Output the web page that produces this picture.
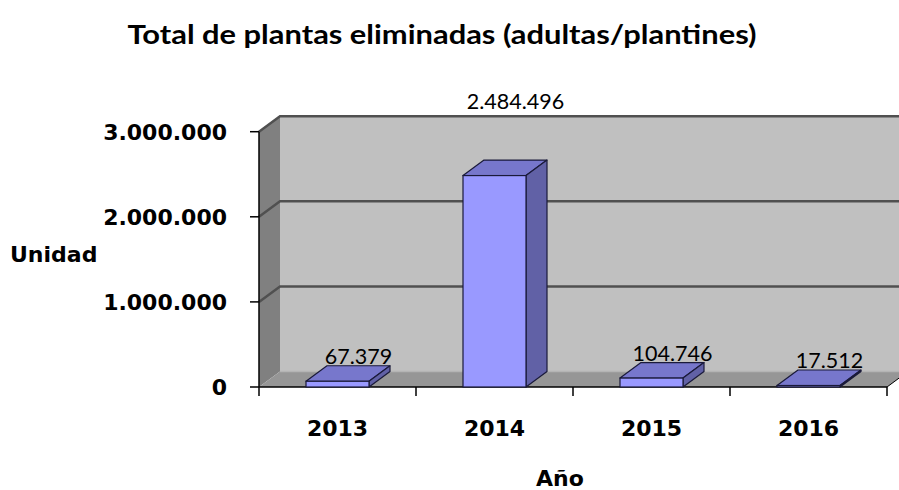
<!DOCTYPE html>
<html>
<head>
<meta charset="utf-8">
<script src="https://cdn.jsdelivr.net/npm/d3@7"></script>
<style>
  html, body { margin: 0; padding: 0; background: #fff; }
</style>
</head>
<body>
<div id="chart"></div>
<script>
const years = ['2013', '2014', '2015', '2016'];
const values = [67379, 2484496, 104746, 17512];
const yTicks = [0, 1000000, 2000000, 3000000];
const yTickLabels = ['0', '1.000.000', '2.000.000', '3.000.000'];
const valueLabels = ['67.379', '2.484.496', '104.746', '17.512'];
const title = 'Total de plantas eliminadas (adultas/plantines)';
const xTitle = 'Año';
const yTitle = 'Unidad';

const width = 899;
const height = 490;
const plot = {left: 259, right: 887, top: 131.7, bottom: 387};
// 3d depth offset
const dx = 21;
const dy = -15.5;
const barWidth = 63;

const svg = d3
  .select('#chart')
  .append('svg')
  .attr('width', width)
  .attr('height', height);

const xScale = d3
  .scaleBand()
  .domain(years)
  .range([plot.left, plot.right])
  .padding(0);

const yScale = d3
  .scaleLinear()
  .domain([0, 3000000])
  .range([plot.bottom, plot.top]);

const x0 = plot.left;
const x1 = plot.right;
const yBase = yScale(0);
const yTop = yScale(3000000);

const poly = (pts) => pts.map((p) => p.join(',')).join(' ');

// back wall
svg
  .append('polygon')
  .attr('points', poly([
    [x0 + dx, yBase + dy],
    [x0 + dx, yTop + dy],
    [x1 + dx, yTop + dy],
    [x1 + dx, yBase + dy],
  ]))
  .attr('fill', '#c0c0c0');

// left wall
svg
  .append('polygon')
  .attr('points', poly([
    [x0, yBase],
    [x0, yTop],
    [x0 + dx, yTop + dy],
    [x0 + dx, yBase + dy],
  ]))
  .attr('fill', '#808080');

// floor
svg
  .append('polygon')
  .attr('points', poly([
    [x0, yBase],
    [x1, yBase],
    [x1 + dx, yBase + dy],
    [x0 + dx, yBase + dy],
  ]))
  .attr('fill', '#969696');

svg
  .append('line')
  .attr('x1', x0 + dx)
  .attr('x2', x1 + dx)
  .attr('y1', yBase + dy)
  .attr('y2', yBase + dy)
  .attr('stroke', '#b4b4b4')
  .attr('stroke-width', 1.5);

// gridlines on left wall + back wall
const grid = svg.append('g').attr('class', 'grid');
yTicks
  .filter((t) => t > 0)
  .forEach((t) => {
    const y = yScale(t);
    grid
      .append('polyline')
      .attr('points', poly([
        [x0, y],
        [x0 + dx, y + dy],
        [x1 + dx, y + dy],
      ]))
      .attr('fill', 'none')
      .attr('stroke', '#505050')
      .attr('stroke-width', 2.5);
  });

// y axis
svg
  .append('line')
  .attr('x1', x0)
  .attr('x2', x0)
  .attr('y1', yBase)
  .attr('y2', yTop)
  .attr('stroke', '#000')
  .attr('stroke-width', 1.5);

svg
  .selectAll('.ytick')
  .data(yTicks)
  .join('line')
  .attr('class', 'ytick')
  .attr('x1', x0 - 9)
  .attr('x2', x0)
  .attr('y1', (d) => yScale(d))
  .attr('y2', (d) => yScale(d))
  .attr('stroke', '#000')
  .attr('stroke-width', 1.5);

svg
  .selectAll('.ylabel')
  .data(yTicks)
  .join('text')
  .attr('class', 'ylabel')
  .attr('x', 227)
  .attr('y', (d) => yScale(d))
  .attr('dy', '0.36em')
  .attr('text-anchor', 'end')
  .style('font-family', 'DejaVu Sans')
  .style('font-weight', 'bold')
  .style('font-size', '22px')
  .attr('fill', '#000')
  .text((d, i) => yTickLabels[i]);

// x axis
svg
  .append('line')
  .attr('x1', x0)
  .attr('x2', x1)
  .attr('y1', yBase)
  .attr('y2', yBase)
  .attr('stroke', '#000')
  .attr('stroke-width', 1.5);

const xTickPos = years.map((d) => xScale(d)).concat([x1]);
svg
  .selectAll('.xtick')
  .data(xTickPos)
  .join('line')
  .attr('class', 'xtick')
  .attr('x1', (d) => d)
  .attr('x2', (d) => d)
  .attr('y1', yBase)
  .attr('y2', yBase + 9)
  .attr('stroke', '#000')
  .attr('stroke-width', 1.5);

// right end of floor going back
svg
  .append('line')
  .attr('x1', x1)
  .attr('x2', x1 + dx)
  .attr('y1', yBase)
  .attr('y2', yBase + dy)
  .attr('stroke', '#000')
  .attr('stroke-width', 1);

svg
  .selectAll('.xlabel')
  .data(years)
  .join('text')
  .attr('class', 'xlabel')
  .attr('x', (d) => xScale(d) + xScale.bandwidth() / 2)
  .attr('y', 428)
  .attr('dy', '0.36em')
  .attr('text-anchor', 'middle')
  .style('font-family', 'DejaVu Sans')
  .style('font-weight', 'bold')
  .style('font-size', '22px')
  .attr('fill', '#000')
  .text((d) => d);

// bars (front, top, side)
const bars = svg
  .selectAll('.bar')
  .data(years.map((y, i) => ({year: y, value: values[i], label: valueLabels[i]})))
  .join('g')
  .attr('class', 'bar');

const bx = (d) => xScale(d.year) + (xScale.bandwidth() - barWidth) / 2;

bars
  .append('polygon')
  .attr('points', (d) => {
    const x = bx(d);
    const y = yScale(d.value);
    return poly([
      [x, y],
      [x + dx, y + dy],
      [x + barWidth + dx, y + dy],
      [x + barWidth, y],
    ]);
  })
  .attr('fill', '#7777cc')
  .attr('stroke', '#1a1a3a')
  .attr('stroke-width', 1.2)
  .attr('stroke-linejoin', 'round');

bars
  .append('polygon')
  .attr('points', (d) => {
    const x = bx(d) + barWidth;
    const y = yScale(d.value);
    return poly([
      [x, y],
      [x + dx, y + dy],
      [x + dx, yBase + dy],
      [x, yBase],
    ]);
  })
  .attr('fill', '#6161a6')
  .attr('stroke', '#1a1a3a')
  .attr('stroke-width', 1.2)
  .attr('stroke-linejoin', 'round');

bars
  .append('rect')
  .attr('x', (d) => bx(d))
  .attr('y', (d) => yScale(d.value))
  .attr('width', barWidth)
  .attr('height', (d) => yBase - yScale(d.value))
  .attr('fill', '#9999ff')
  .attr('stroke', '#1a1a3a')
  .attr('stroke-width', 1.2);

// value labels, tall bars get theirs above the wall
bars
  .append('text')
  .attr('x', (d) => bx(d) + barWidth / 2 + dx)
  .attr('y', (d) => {
    if (d.value > 1500000) return yTop + dy - 7;
    return yScale(d.value) + dy - 2;
  })
  .attr('text-anchor', 'middle')
  .style('font-family', 'Lato')
  .style('font-size', '21.5px')
  .attr('fill', '#000')
  .text((d) => d.label);

// titles
svg
  .append('text')
  .attr('x', 442)
  .attr('y', 35)
  .attr('dy', '0.35em')
  .attr('text-anchor', 'middle')
  .style('font-family', 'Lato')
  .style('font-weight', 'bold')
  .style('font-size', '26px')
  .attr('textLength', 629)
  .attr('lengthAdjust', 'spacingAndGlyphs')
  .attr('fill', '#000')
  .text(title);

svg
  .append('text')
  .attr('x', 10)
  .attr('y', 254)
  .attr('dy', '0.36em')
  .style('font-family', 'DejaVu Sans')
  .style('font-weight', 'bold')
  .style('font-size', '22px')
  .attr('fill', '#000')
  .text(yTitle);

svg
  .append('text')
  .attr('x', 560)
  .attr('y', 478)
  .attr('dy', '0.36em')
  .attr('text-anchor', 'middle')
  .style('font-family', 'DejaVu Sans')
  .style('font-weight', 'bold')
  .style('font-size', '22px')
  .attr('fill', '#000')
  .text(xTitle);
</script>
</body>
</html>
